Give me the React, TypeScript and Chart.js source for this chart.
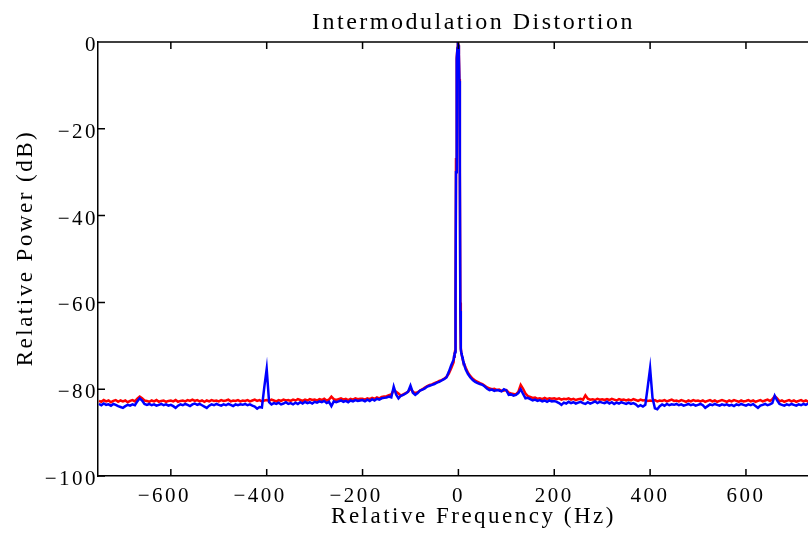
import React, { useEffect, useRef } from "react";
import { Chart, registerables } from "chart.js";

Chart.register(...registerables);

const chartTitle = "Intermodulation Distortion";
const xAxisTitle = "Relative Frequency (Hz)";
const yAxisTitle = "Relative Power (dB)";

const xTickValues = [-600, -400, -200, 0, 200, 400, 600];
const yTickValues = [-100, -80, -60, -40, -20, 0];

const freqHz = [
  -750, -745, -740, -735, -730, -725, -720, -715, -710, -705,
  -700, -695, -690, -685, -680, -675, -670, -665, -660, -655,
  -650, -645, -640, -635, -630, -625, -620, -615, -610, -605,
  -600, -595, -590, -585, -580, -575, -570, -565, -560, -555,
  -550, -545, -540, -535, -530, -525, -520, -515, -510, -505,
  -500, -495, -490, -485, -480, -475, -470, -465, -460, -455,
  -450, -445, -440, -435, -430, -425, -420, -415, -410, -405,
  -400, -395, -390, -385, -380, -375, -370, -365, -360, -355,
  -350, -345, -340, -335, -330, -325, -320, -315, -310, -305,
  -300, -295, -290, -285, -280, -275, -270, -265, -260, -255,
  -250, -245, -240, -235, -230, -225, -220, -215, -210, -205,
  -200, -195, -190, -185, -180, -175, -170, -165, -160, -155,
  -150, -145, -140, -135, -130, -125, -120, -115, -110, -105,
  -100, -95, -90, -85, -80, -75, -70, -65, -60, -55,
  -50, -45, -40, -35, -30, -25, -20, -15, -10,
  -9, -8, -7, -6, -5, -4, -3, -2, -1, 0, 1, 2, 3, 4, 5, 6, 7, 8, 9,
  10, 15, 20, 25, 30, 35, 40, 45, 50,
  55, 60, 65, 70, 75, 80, 85, 90, 95, 100,
  105, 110, 115, 120, 125, 130, 135, 140, 145, 150,
  155, 160, 165, 170, 175, 180, 185, 190, 195, 200,
  205, 210, 215, 220, 225, 230, 235, 240, 245, 250,
  255, 260, 265, 270, 275, 280, 285, 290, 295, 300,
  305, 310, 315, 320, 325, 330, 335, 340, 345, 350,
  355, 360, 365, 370, 375, 380, 385, 390, 395, 400,
  405, 410, 415, 420, 425, 430, 435, 440, 445, 450,
  455, 460, 465, 470, 475, 480, 485, 490, 495, 500,
  505, 510, 515, 520, 525, 530, 535, 540, 545, 550,
  555, 560, 565, 570, 575, 580, 585, 590, 595, 600,
  605, 610, 615, 620, 625, 630, 635, 640, 645, 650,
  655, 660, 665, 670, 675, 680, 685, 690, 695, 700,
  705, 710, 715, 720, 725, 730, 735, 740, 745, 750,
];

const redDb = [
  -82.7, -82.9, -82.5, -82.8, -82.6, -83.0, -82.7, -82.5, -82.9, -82.6,
  -82.8, -82.6, -83.0, -82.7, -82.5, -82.8, -82.2, -81.7, -82.1, -82.6,
  -82.7, -82.9, -82.6, -82.8, -82.5, -82.9, -82.7, -82.6, -82.9, -82.7,
  -82.6, -82.8, -82.5, -82.9, -82.7, -82.6, -82.8, -82.5, -82.7, -82.4,
  -82.7, -82.5, -82.8, -82.6, -82.9, -82.6, -82.8, -82.5, -82.7, -82.6,
  -82.8, -82.5, -82.7, -82.6, -82.4, -82.8, -82.6, -82.7, -82.5, -82.8,
  -82.6, -82.7, -82.5, -82.8, -82.6, -82.4, -82.7, -82.5, -82.8, -82.6,
  -82.5, -82.7, -82.4, -82.6, -82.8, -82.5, -82.7, -82.4, -82.6, -82.5,
  -82.7, -82.4, -82.6, -82.3, -82.5, -82.7, -82.4, -82.6, -82.3, -82.5,
  -82.4, -82.6, -82.3, -82.5, -82.2, -82.6, -82.4, -81.7, -82.3, -82.5,
  -82.3, -82.1, -82.4, -82.2, -82.5, -82.2, -82.4, -82.1, -82.3, -82.2,
  -82.2, -82.4, -82.1, -82.3, -82.0, -82.2, -81.9, -82.1, -81.8, -81.7,
  -81.6, -81.4, -81.2, -80.2, -80.6, -81.0, -81.5, -81.2, -80.9, -80.6,
  -79.8, -80.6, -80.9, -80.7, -80.3, -80.0, -79.6, -79.3, -79.0, -78.9,
  -78.6, -78.4, -78.1, -77.9, -77.6, -77.2, -76.4, -75.2, -73.8,
  -72.5, -71.9, -71.2, -58, -27, -9, -3.5, -1.3, -0.2, -0.7, -2.8, -8.5, -28, -60, -70.5, -71.6, -72.1, -72.6, -73.0,
  -73.6, -75.0, -76.2, -77.0, -77.6, -78.0, -78.3, -78.6, -78.8,
  -79.2, -79.6, -79.8, -80.0, -79.9, -80.2, -80.1, -80.4, -80.3, -80.2,
  -80.8, -81.0, -81.1, -81.2, -80.6, -79.0, -79.9, -81.0, -81.6, -81.8,
  -82.0, -81.9, -82.2, -82.1, -82.3, -82.0, -82.3, -82.1, -82.2, -82.1,
  -82.3, -82.1, -82.4, -82.2, -82.3, -82.1, -82.4, -82.2, -82.5, -82.3,
  -82.2, -82.4, -81.4, -82.2, -82.4, -82.3, -82.5, -82.2, -82.4, -82.3,
  -82.5, -82.3, -82.5, -82.2, -82.4, -82.6, -82.3, -82.5, -82.4, -82.6,
  -82.4, -82.6, -82.3, -82.5, -82.7, -82.4, -82.6, -82.5, -82.7, -82.6,
  -82.7, -82.5, -82.8, -82.6, -82.7, -82.5, -82.8, -82.6, -82.4, -82.7,
  -82.6, -82.8, -82.5, -82.7, -82.9, -82.6, -82.8, -82.5, -82.7, -82.6,
  -82.8, -82.6, -82.9, -82.7, -82.5, -82.8, -82.6, -82.9, -82.7, -82.5,
  -82.7, -82.9, -82.6, -82.8, -82.5, -82.7, -82.9, -82.6, -82.8, -82.7,
  -82.5, -82.8, -82.6, -82.9, -82.7, -82.5, -82.8, -82.6, -82.4, -82.7,
  -82.3, -81.6, -82.1, -82.8, -82.6, -82.9, -82.7, -82.5, -82.8, -82.6,
  -82.9, -82.7, -82.5, -82.8, -82.6, -82.9, -82.7, -82.5, -82.8, -82.7,
];

const blueDb = [
  -83.4, -83.7, -83.3, -83.6, -83.5, -83.8, -83.4, -83.6, -83.9, -84.1,
  -84.3, -83.9, -83.6, -83.8, -83.5, -83.7, -82.8, -82.1, -82.6, -83.4,
  -83.6, -83.4, -83.7, -83.5, -83.8, -83.6, -83.4, -83.7, -83.5, -83.8,
  -83.6, -83.9, -84.3, -83.8, -83.5, -83.7, -83.4, -83.6, -83.9, -83.5,
  -83.3, -83.6, -83.4, -83.7, -84.0, -84.3, -83.8, -83.5, -83.7, -83.4,
  -83.6, -83.8, -83.5, -83.7, -83.4, -83.6, -83.9, -83.5, -83.7, -83.5,
  -83.6, -83.4, -83.7, -83.5, -83.8, -84.0, -84.5, -84.1, -84.2, -79.5,
  -75.3, -83.0, -83.5, -83.2, -83.4, -83.1, -83.5, -83.3, -83.0, -83.4,
  -83.2, -83.5, -83.1, -83.4, -83.0, -83.3, -82.9, -83.2, -83.0, -83.3,
  -82.9, -83.1, -82.8, -83.0, -82.7, -83.2, -82.9, -83.9, -82.8, -83.0,
  -82.8, -82.6, -82.9, -82.7, -83.0, -82.6, -82.8, -82.5, -82.7, -82.6,
  -82.5, -82.8, -82.4, -82.7, -82.3, -82.6, -82.2, -82.4, -82.1, -82.0,
  -81.9, -81.7, -81.9, -79.4, -81.2, -82.1, -81.5, -81.3, -81.0, -80.6,
  -79.2, -80.8, -81.3, -80.9, -80.3, -80.1, -79.8, -79.4, -79.2, -79.0,
  -78.8, -78.5, -78.3, -78.0, -77.7, -77.3, -76.0, -74.5, -73.2,
  -72.4, -71.8, -71.5, -60, -30, -10, -4, -1.5, -0.3, -0.8, -3, -9, -30, -62, -70.8, -71.6, -72.1, -72.5, -72.9,
  -73.4, -75.4, -76.5, -77.3, -77.9, -78.3, -78.6, -78.8, -79.0,
  -79.4, -79.9, -80.2, -80.1, -80.4, -80.2, -80.3, -80.5, -80.0, -80.3,
  -81.3, -81.2, -81.5, -81.3, -80.9, -80.0, -81.1, -82.1, -82.0, -82.3,
  -82.6, -82.4, -82.7, -82.5, -82.8, -82.6, -82.9, -82.6, -82.8, -82.7,
  -82.9, -83.2, -83.6, -83.1, -83.3, -82.9, -83.2, -83.0, -83.3, -83.1,
  -82.9, -83.2, -83.4, -83.0, -83.3, -83.1, -82.8, -83.2, -82.9, -83.1,
  -83.2, -82.9, -83.3, -83.0, -83.4, -83.1, -83.3, -83.0, -83.2, -83.4,
  -83.1, -83.4, -83.2, -83.5, -84.0, -83.7, -84.0, -83.6, -79.5, -75.2,
  -82.0, -84.4, -84.6, -83.9, -83.5, -83.8, -83.4, -83.7, -83.5, -83.6,
  -83.4, -83.7, -83.5, -83.8, -83.6, -83.4, -83.7, -83.5, -83.8, -83.6,
  -83.4, -83.7, -84.3, -83.9, -83.5, -83.7, -83.4, -83.6, -83.8, -83.5,
  -83.7, -83.5, -83.8, -83.6, -83.9, -83.5, -83.7, -83.4, -83.6, -83.8,
  -83.5, -83.7, -83.4, -83.9, -84.3, -83.8, -83.6, -83.4, -83.7, -83.5,
  -83.2, -81.5, -82.6, -83.4, -83.6, -83.8, -83.5, -83.7, -83.4, -83.6,
  -83.8, -83.5, -83.7, -83.4, -83.6, -83.3, -83.5, -83.7, -83.4, -83.5,
];

const FONT = "'Liberation Serif', 'Times New Roman', serif";
const LETTER_SPACING = "2.5px";

const setSpacing = (chart: any) => {
  try {
    (chart.ctx as any).letterSpacing = LETTER_SPACING;
  } catch (e) {
    /* ignore */
  }
};

const spacingPlugin = {
  id: "letterSpacingPlugin",
  beforeUpdate: setSpacing,
  beforeLayout: setSpacing,
  beforeDraw: setSpacing,
};

const framePlugin = {
  id: "matlabFrame",
  afterDraw(chart: any) {
    const { ctx, chartArea: a, scales } = chart;
    const L = 7;
    ctx.save();
    ctx.strokeStyle = "#000";
    ctx.lineWidth = 1.5;
    ctx.beginPath();
    ctx.moveTo(a.left, a.top);
    ctx.lineTo(a.right, a.top);
    ctx.lineTo(a.right, a.bottom);
    for (const v of xTickValues) {
      const px = scales.x.getPixelForValue(v);
      ctx.moveTo(px, a.bottom);
      ctx.lineTo(px, a.bottom - L);
      ctx.moveTo(px, a.top);
      ctx.lineTo(px, a.top + L);
    }
    for (const v of yTickValues) {
      const py = scales.y.getPixelForValue(v);
      ctx.moveTo(a.left, py);
      ctx.lineTo(a.left + L, py);
      ctx.moveTo(a.right, py);
      ctx.lineTo(a.right - L, py);
    }
    ctx.stroke();

    // y-axis title, centred slightly above the plot's mid-height as in the reference
    ctx.letterSpacing = LETTER_SPACING;
    ctx.font = "23px " + FONT;
    ctx.fillStyle = "#000";
    ctx.textAlign = "center";
    ctx.textBaseline = "middle";
    ctx.translate(25.5, (a.top + a.bottom) / 2 - 11);
    ctx.rotate(-Math.PI / 2);
    ctx.fillText(yAxisTitle, 0, 0);
    ctx.restore();
  },
};

const fmtTick = (v: number) =>
  v < 0 ? "\u2212" + Math.abs(v) + "\u2002" : String(v);

export default function App() {
  const canvasRef = useRef<HTMLCanvasElement | null>(null);

  useEffect(() => {
    if (!canvasRef.current) return;
    Chart.defaults.font.family = FONT;
    Chart.defaults.color = "#000";
    const redPoints = freqHz.map((f, i) => ({ x: f, y: redDb[i] }));
    const bluePoints = freqHz.map((f, i) => ({ x: f, y: blueDb[i] }));

    const chart = new Chart(canvasRef.current, {
      type: "line",
      data: {
        datasets: [
          {
            label: "Blue",
            data: bluePoints,
            borderColor: "#0000ff",
            backgroundColor: "#0000ff",
            borderWidth: 2.5,
            pointRadius: 0,
            tension: 0,
            order: 0,
          },
          {
            label: "Red",
            data: redPoints,
            borderColor: "#ff0000",
            backgroundColor: "#ff0000",
            borderWidth: 2.5,
            pointRadius: 0,
            tension: 0,
            order: 1,
          },
        ],
      },
      options: {
        animation: false,
        responsive: false,
        devicePixelRatio: 1,
        events: [],
        layout: { padding: { left: 0, top: 0, right: 21, bottom: 0 } },
        plugins: {
          legend: { display: false },
          tooltip: { enabled: false },
          title: {
            display: true,
            text: chartTitle,
            fullSize: false,
            color: "#000",
            font: { family: FONT, size: 24, weight: "normal" },
            padding: { top: 8, bottom: 5.2 },
          },
        },
        scales: {
          x: {
            type: "linear",
            min: -752,
            max: 815,
            afterBuildTicks: (s: any) => {
              s.ticks = xTickValues.map((v) => ({ value: v }));
            },
            afterFit: (s: any) => {
              s.height = 57;
            },
            ticks: {
              callback: (v: any) => fmtTick(Number(v)),
              font: { family: FONT, size: 21 },
              color: "#000",
              padding: 8,
              maxRotation: 0,
              autoSkip: false,
            },
            grid: { display: false, drawTicks: false },
            border: { display: true, color: "#000", width: 1.5 },
            title: {
              display: true,
              text: xAxisTitle,
              color: "#000",
              font: { family: FONT, size: 23 },
              padding: { top: 0, bottom: 2 },
            },
          },
          y: {
            type: "linear",
            min: -100,
            max: 0,
            afterBuildTicks: (s: any) => {
              s.ticks = yTickValues.map((v) => ({ value: v }));
            },
            afterFit: (s: any) => {
              s.width = 98;
            },
            ticks: {
              callback: (v: any) => (Number(v) < 0 ? "\u2212" + Math.abs(Number(v)) : String(v)),
              font: { family: FONT, size: 21 },
              color: "#000",
              padding: 0,
              labelOffset: 3.5,
              autoSkip: false,
            },
            grid: { display: false, drawTicks: false },
            border: { display: true, color: "#000", width: 1.5 },
            title: { display: false, text: yAxisTitle },
          },
        },
      },
      plugins: [spacingPlugin, framePlugin],
    } as any);

    return () => {
      chart.destroy();
    };
  }, []);

  return (
    <div
      style={{
        position: "absolute",
        left: 0,
        top: 0,
        width: 808,
        height: 533,
        overflow: "hidden",
        background: "#fff",
      }}
    >
      <canvas
        ref={canvasRef}
        width={870}
        height={533}
        style={{ display: "block", width: 870, height: 533 }}
      />
    </div>
  );
}
